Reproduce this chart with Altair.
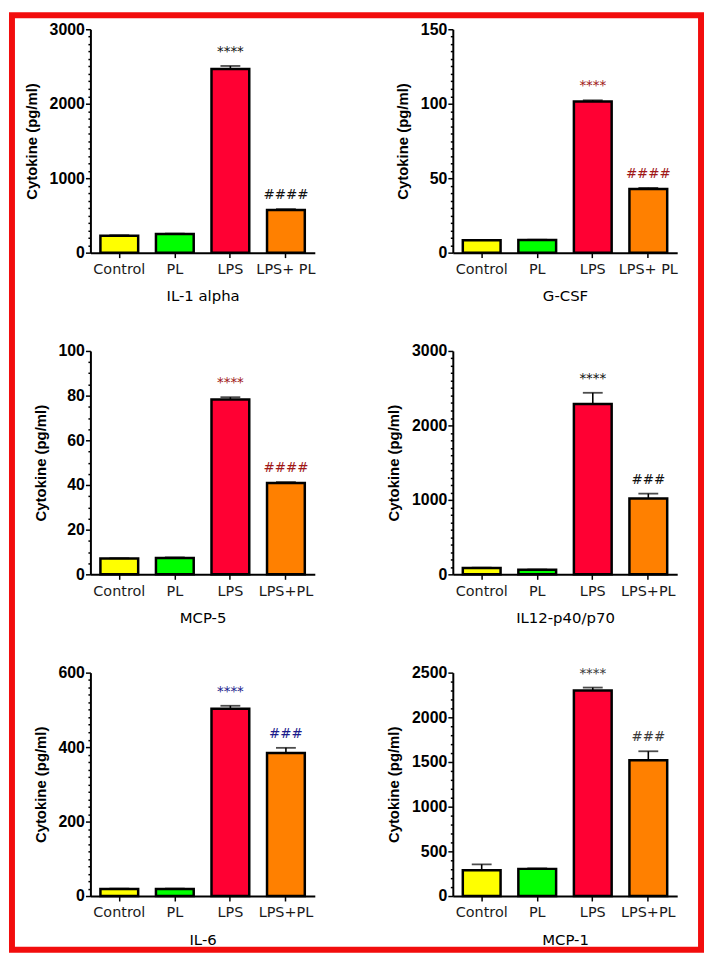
import altair as alt
import pandas as pd

# ---------------- data ----------------
CATS_TOP = ["Control", "PL", "LPS", "LPS+ PL"]
CATS_BOTTOM = ["Control", "PL", "LPS", "LPS+PL"]
BAR_COLORS = ["#FFFF00", "#00FF00", "#FF0033", "#FF8000"]

IL1_ALPHA = [228, 250, 2467, 573]
IL1_ALPHA_SEM = [6, 6, 40, 12]
GCSF = [8.4, 8.5, 101.5, 42.8]
GCSF_SEM = [0.2, 0.2, 0.8, 0.7]
MCP5 = [7.1, 7.3, 78.3, 40.9]
MCP5_SEM = [0.1, 0.3, 1.0, 0.4]
IL12 = [85, 62, 2288, 1019]
IL12_SEM = [5, 3, 150, 65]
IL6 = [19, 19, 503, 384]
IL6_SEM = [1, 1, 8, 14]
MCP1 = [289, 304, 2300, 1520]
MCP1_SEM = [66, 6, 33, 100]

SIG_4 = ["", "", "****", "####"]
SIG_3 = ["", "", "****", "###"]

PANEL_TITLES = ["IL-1 alpha", "G-CSF", "MCP-5", "IL12-p40/p70", "IL-6", "MCP-1"]
Y_MAX = [3000, 150, 100, 3000, 600, 2500]
Y_MAJOR = [1000, 50, 20, 1000, 200, 500]
Y_MINOR = [100, 5, 5, 100, 20, 100]
SIG_COLORS = ["#111111", "#A01818", "#A01818", "#111111", "#1C1C8C", "#3A3A3A"]

PANEL_W = 226
PANEL_H = 225


def panel(idx, cats, vals, sems, sig, frame=False):
    title = PANEL_TITLES[idx]
    ymax = Y_MAX[idx]
    major = Y_MAJOR[idx]
    minor = Y_MINOR[idx]
    df = pd.DataFrame({"group": cats, "value": vals, "sem": sems, "sig": sig})
    df["top"] = df["value"] + df["sem"]

    ys = alt.Scale(domain=[0, ymax], nice=False, zero=True)
    xs = alt.Scale(paddingInner=0.32, paddingOuter=0.18)

    x_axis = alt.Axis(
        title=title, labelAngle=0, labelFont="DejaVu Sans", labelFontSize=14.5,
        labelColor="#1A1A1A", labelPadding=5, tickSize=5, tickColor="black",
        tickWidth=1.5, domainColor="black", domainWidth=2,
        titleFont="DejaVu Sans", titleFontSize=15, titleFontWeight="normal",
        titleColor="black", titlePadding=13, grid=False,
    )
    y_axis = alt.Axis(
        title="Cytokine (pg/ml)",
        values=list(range(0, ymax + 1, minor)),
        format="d",
        labelExpr=f"datum.value % {major} === 0 ? datum.label : ''",
        labelOverlap=False,
        labelFont="Liberation Sans", labelFontSize=16, labelFontWeight="bold",
        labelColor="black", labelPadding=1,
        tickSize={"condition": {"test": f"datum.value % {major} === 0", "value": 5}, "value": 2.5},
        tickColor="black", tickWidth=1.5,
        domainColor="black", domainWidth=2,
        titleFont="Liberation Sans", titleFontSize=15, titleFontWeight="bold",
        titleColor="black", titlePadding=10, grid=False,
    )

    def yenc(field):
        return alt.Y(field, scale=ys, axis=y_axis)

    base = alt.Chart(df).encode(x=alt.X("group:N", sort=cats, scale=xs, axis=x_axis))

    bars = base.mark_bar(stroke="black", strokeWidth=2.5).encode(
        y=yenc("value:Q"),
        color=alt.Color("group:N", scale=alt.Scale(domain=cats, range=BAR_COLORS), legend=None),
    )
    rule = base.mark_rule(color="black", strokeWidth=1.6).encode(
        y=yenc("value:Q"),
        y2="top:Q",
    )
    cap = base.mark_tick(color="black", size=20, thickness=1.8).encode(
        y=yenc("top:Q"),
    )
    text = base.mark_text(
        font="DejaVu Sans", fontSize=13.5, dy=-10, baseline="alphabetic",
        color=SIG_COLORS[idx],
    ).encode(
        y=yenc("top:Q"),
        text="sig:N",
    )
    layers = [bars, rule, cap, text]
    if frame:
        border = alt.Chart(pd.DataFrame({"frame": [0]})).mark_rect(
            fillOpacity=0, stroke="#F20D0D", strokeWidth=6
        ).encode(
            x=alt.value(-79), x2=alt.value(615), y=alt.value(-14), y2=alt.value(927)
        )
        layers.append(border)
    return alt.layer(*layers).properties(width=PANEL_W, height=PANEL_H)


p1 = panel(0, CATS_TOP, IL1_ALPHA, IL1_ALPHA_SEM, SIG_4, frame=True)
p2 = panel(1, CATS_TOP, GCSF, GCSF_SEM, SIG_4)
p3 = panel(2, CATS_BOTTOM, MCP5, MCP5_SEM, SIG_4)
p4 = panel(3, CATS_BOTTOM, IL12, IL12_SEM, SIG_3)
p5 = panel(4, CATS_BOTTOM, IL6, IL6_SEM, SIG_3)
p6 = panel(5, CATS_BOTTOM, MCP1, MCP1_SEM, SIG_3)

chart = alt.concat(
    p1, p2, p3, p4, p5, p6,
    columns=2,
    spacing={"row": 99, "column": 139},
    bounds="flush",
).resolve_scale(
    color="independent"
).properties(
    padding=0,
    background="white",
).configure_view(
    stroke="transparent"
)

chart.save("out.html", embed_options={"renderer": "svg", "actions": False})
